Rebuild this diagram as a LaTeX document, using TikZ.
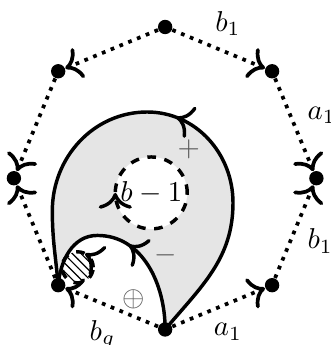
\documentclass[tikz,border=0pt]{standalone}
\usepackage{tikz}
\usetikzlibrary{arrows.meta, positioning, calc, decorations.markings, patterns}

\tikzset{
  vertex/.style={circle, fill, inner sep=0pt, minimum size=5pt},
  side/.style={line width=1.3pt, dotted, -{Computer Modern Rightarrow[scale=1.2]}},
  curve/.style={line width=1.2pt},
  midarrow/.style={postaction={decorate}, decoration={markings,
      mark=at position #1 with {\arrow{Computer Modern Rightarrow[scale=1.3]}}}},
  revarrow/.style={postaction={decorate}, decoration={markings,
      mark=at position #1 with {\arrowreversed{Computer Modern Rightarrow[scale=1.3]}}}},
  sign/.style={text=black!65}
}

\begin{document}
\begin{tikzpicture}[line join=round]
      \useasboundingbox (-2.02,-2.04) rectangle (2.02,2.18);
      \coordinate (B) at (270:1.85);
      \coordinate (L) at (225:1.85);
      \coordinate (R) at (0.83,-0.3);
      \coordinate (T) at (-0.22,0.81);
      \coordinate (W) at (-1.38,-0.4);
      \coordinate (P) at (-0.83,-0.7);
      \coordinate (H) at (-1.07,-1.09);
      \coordinate (C) at (-0.17,-0.18);
      \fill[gray!20] (B) to[out=50,in=-90] (R) to[out=90,in=0] (T)
        to[out=180,in=90] (W) to[out=-90,in=95] (L)
        to[out=85,in=180] (P) to[out=0,in=90] (B);
      \draw[curve, dashed, fill=white, revarrow=0.5] (C) circle[radius=0.44];
      \node (hole) at (C) {\(b-1\)};
      \fill[white] (H) circle[radius=0.19];
      \fill[pattern=north west lines] (H) circle[radius=0.19];
      \draw[curve, dashed, midarrow=0.17] (H) circle[radius=0.19];
      \draw[curve, midarrow=0.5] (B) to[out=50,in=-90] (R) to[out=90,in=0] (T)
        to[out=180,in=90] (W) to[out=-90,in=95] (L);
      \draw[curve, midarrow=0.48] (B) to[out=90,in=0] (P) to[out=180,in=85] (L);
      \node[sign] (plus) at (0.29,0.35) {\(+\)};
      \node[sign] (minus) at (0.01,-0.94) {\(-\)};
      \node[sign] (oplus) at (-0.39,-1.48) {\(\oplus\)};
      \foreach \i in {0,...,7}
        \node[vertex] (v\i) at (90+45*\i:1.85) {};
      \draw[side] (v0) -- node[pos=0.6, above=2pt] (top) {\(b_1\)} (v7);
      \draw[side] (v7) -- node[pos=0.4, right=2pt] (upper) {\(a_1\)} (v6);
      \draw[side] (v5) -- node[pos=0.4, right=2pt] (lower) {\(b_1\)} (v6);
      \draw[side] (v4) -- node[pos=0.6, below=3pt] (bottom) {\(a_1\)} (v5);
      \draw[side] (v4) -- node[pos=0.6, below=2pt] (genus) {\(b_g\)} (v3);
      \draw[side] (v0) -- (v1);
      \draw[side] (v1) -- (v2);
      \draw[side] (v3) -- (v2);
    \end{tikzpicture}
\end{document}
